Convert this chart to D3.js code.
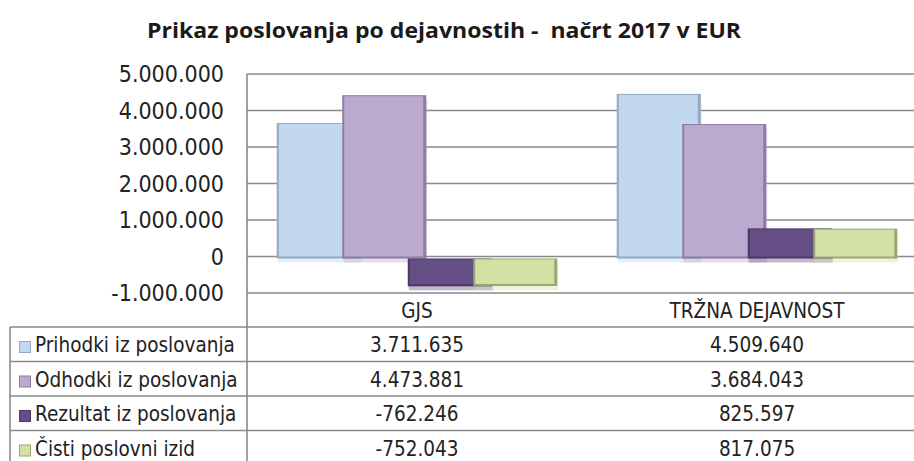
<!DOCTYPE html>
<html>
<head>
<meta charset="utf-8">
<script src="https://cdn.jsdelivr.net/npm/d3@7"></script>
<style>
  body { margin: 0; background: #fff; }
  svg { display: block; }
</style>
</head>
<body>
<script>
const categories = ["GJS", "TRŽNA DEJAVNOST"];
const seriesNames = ["Prihodki iz poslovanja", "Odhodki iz poslovanja", "Rezultat iz poslovanja", "Čisti poslovni izid"];
const prihodki = [3711635, 4509640];
const odhodki = [4473881, 3684043];
const rezultat = [-762246, 825597];
const cistiIzid = [-752043, 817075];
const yTicks = [-1000000, 0, 1000000, 2000000, 3000000, 4000000, 5000000];

const seriesValues = [prihodki, odhodki, rezultat, cistiIzid];
const fills = ["#C2D8EF", "#BBA9D0", "#664F86", "#D1E2A4"];
const edges = ["#93A8C2", "#8D7DA2", "#4A3965", "#98A873"];

const width = 914, height = 461;
const left = 247, plotTop = 74, plotBottom = 293;

const svg = d3.select("body").append("svg")
    .attr("width", width)
    .attr("height", height);

const fmt = d3.formatLocale({decimal: ",", thousands: ".", grouping: [3], currency: ["", ""], minus: "-"}).format(",d");

const y = d3.scaleLinear().domain([-1000000, 5000000]).range([plotBottom, plotTop]);
const x0 = d3.scaleBand().domain(categories).range([left, 927]);
const x1 = d3.scaleBand().domain(seriesNames).range([0, 4 * 65.5]);
const barW = 84;
const clusterW = 3 * 65.5 + barW;

// title
svg.append("text")
    .attr("x", 444)
    .attr("y", 38)
    .attr("text-anchor", "middle")
    .attr("font-family", "'Open Sans', sans-serif")
    .attr("font-weight", 700)
    .attr("font-size", 21)
    .attr("fill", "#1a1a1a")
    .attr("textLength", 594)
    .attr("lengthAdjust", "spacingAndGlyphs")
    .style("white-space", "pre")
    .text("Prikaz poslovanja po dejavnostih -  načrt 2017 v EUR");

// gridlines
svg.append("g")
    .selectAll("line")
    .data(yTicks)
    .join("line")
    .attr("x1", left)
    .attr("x2", width)
    .attr("y1", d => y(d))
    .attr("y2", d => y(d))
    .attr("stroke", "#8a8a8a")
    .attr("stroke-width", 1.6);

// y labels
svg.append("g")
    .selectAll("text")
    .data(yTicks)
    .join("text")
    .attr("x", 224)
    .attr("y", d => y(d) + 8)
    .attr("text-anchor", "end")
    .attr("font-family", "'DejaVu Sans Condensed', 'DejaVu Sans', sans-serif")
    .attr("font-size", 23)
    .attr("fill", "#222")
    .text(d => fmt(d));

// bars
const bars = [];
seriesNames.forEach((s, i) => {
    categories.forEach((c, j) => {
        bars.push({s: s, i: i, c: c, v: seriesValues[i][j]});
    });
});
const bx = d => x0(d.c) + x0.bandwidth() / 2 - clusterW / 2 + x1(d.s);
const by = d => Math.min(y(d.v), y(0)) + 2;
const bh = d => Math.abs(y(d.v) - y(0));

// soft shadows under the bars
svg.append("g")
    .selectAll("rect")
    .data(bars)
    .join("rect")
    .attr("x", d => bx(d) + 1)
    .attr("y", d => by(d) + 4)
    .attr("width", barW)
    .attr("height", d => bh(d))
    .attr("fill", d => fills[d.i])
    .attr("opacity", 0.4);

const bar = svg.append("g")
    .selectAll("g")
    .data(bars)
    .join("g");

bar.append("rect")
    .attr("x", d => bx(d))
    .attr("y", d => by(d))
    .attr("width", barW)
    .attr("height", d => bh(d))
    .attr("fill", d => edges[d.i]);

bar.append("rect")
    .attr("x", d => bx(d) + 2)
    .attr("y", d => by(d) + 1)
    .attr("width", barW - 5)
    .attr("height", d => bh(d) - 3)
    .attr("fill", d => fills[d.i]);

// data table
const rowLines = [327, 361.5, 396, 430.5];
const tbl = svg.append("g").attr("stroke", "#8a8a8a").attr("stroke-width", 1.6);
rowLines.forEach(ry => {
    tbl.append("line").attr("x1", 10).attr("x2", width).attr("y1", ry).attr("y2", ry);
});
tbl.append("line").attr("x1", left).attr("x2", left).attr("y1", plotTop).attr("y2", height);
tbl.append("line").attr("x1", 10).attr("x2", 10).attr("y1", 327).attr("y2", height);

const tfont = "'DejaVu Sans Condensed', 'DejaVu Sans', sans-serif";

svg.append("g")
    .selectAll("text")
    .data(categories)
    .join("text")
    .attr("x", d => x0(d) + x0.bandwidth() / 2)
    .attr("y", 318)
    .attr("text-anchor", "middle")
    .attr("font-family", tfont)
    .attr("font-size", 20.5)
    .attr("fill", "#222")
    .text(d => d);

const rows = svg.append("g")
    .selectAll("g")
    .data(seriesNames)
    .join("g")
    .attr("transform", (d, i) => `translate(0,${rowLines[i]})`);

rows.append("rect")
    .attr("x", 19.5)
    .attr("y", 14.5)
    .attr("width", 11)
    .attr("height", 11)
    .attr("fill", (d, i) => fills[i])
    .attr("stroke", (d, i) => edges[i])
    .attr("stroke-width", 1);

rows.append("text")
    .attr("x", 35)
    .attr("y", 25)
    .attr("font-family", tfont)
    .attr("font-size", 20.5)
    .attr("fill", "#222")
    .text(d => d);

rows.selectAll("text.val")
    .data((d, i) => seriesValues[i].map((v, j) => ({v: v, c: categories[j]})))
    .join("text")
    .attr("class", "val")
    .attr("x", d => x0(d.c) + x0.bandwidth() / 2)
    .attr("y", 25)
    .attr("text-anchor", "middle")
    .attr("font-family", tfont)
    .attr("font-size", 20.5)
    .attr("fill", "#222")
    .text(d => fmt(d.v));
</script>
</body>
</html>
